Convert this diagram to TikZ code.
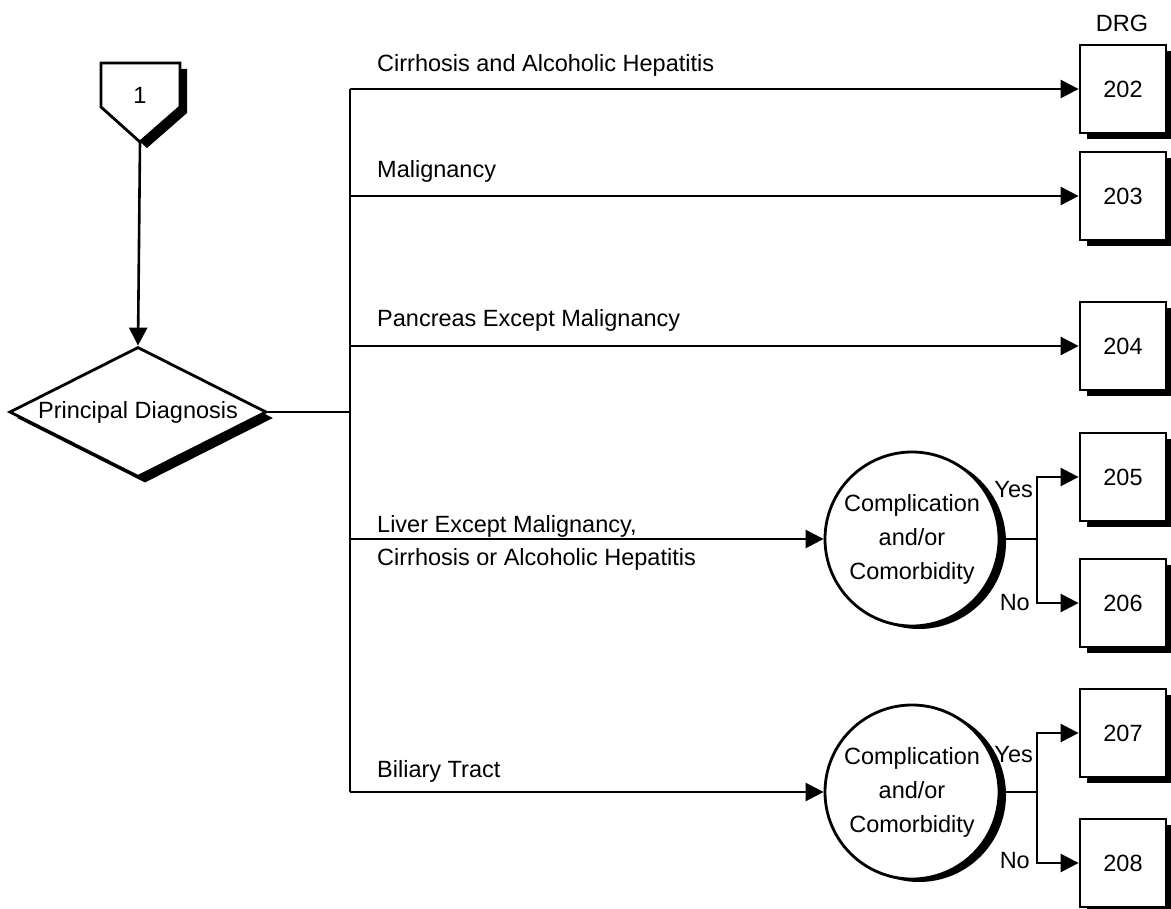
\documentclass[tikz,border=0pt]{standalone}
\usepackage{fontspec}
\setmainfont{Liberation Sans}
\usetikzlibrary{shapes.geometric,shadows,arrows.meta,calc}

\begin{document}
\begin{tikzpicture}[x=1pt,y=-1pt,
  txt/.style={font=\fontsize{23.5}{28}\selectfont, inner sep=0pt},
  conn/.style={line width=2.6pt},
  arr/.style={conn, -{Triangle[length=18pt,width=18pt]}},
  shade/.style={drop shadow={shadow xshift=7pt,shadow yshift=-6pt,opacity=1,fill=black}},
  drgbox/.style={draw, line width=2.8pt, fill=white, shade, txt,
    minimum width=86pt, minimum height=88pt},
  decision/.style={draw, line width=2.8pt, fill=white, circle,
    minimum size=174pt, inner sep=0pt, align=center,
    font=\fontsize{23.5}{34}\selectfont,
    drop shadow={shadow xshift=7pt,shadow yshift=-3pt,opacity=1,fill=black}}]

\useasboundingbox[fill=white] (0,0) rectangle (1171,909);

% off-page connector
\path[draw, line width=2.8pt, fill=white, shade]
  (101,63) -- (180,63) -- (180,107) -- (140,142) -- (101,107) -- cycle;
\node[txt] (start) at (140,95) {1};
\coordinate (starttip) at (140,142);

% principal diagnosis
\node[draw, line width=2.8pt, fill=white, diamond, aspect=2, inner sep=0pt,
  minimum width=257pt, minimum height=130pt, txt, shade] (diag) at (138,412)
  {Principal Diagnosis};
\draw[arr] (starttip) -- (diag.north);

% trunk of the branches
\coordinate (bartop) at (350,89);
\coordinate (barbot) at (350,792);
\draw[conn] (bartop) -- (barbot);
\draw[conn] (diag.east) -- (diag.east -| bartop);

% DRG boxes
\node[txt] (drg) at (1122,23) {DRG};
\node[drgbox] (b202) at (1123,89)  {202};
\node[drgbox] (b203) at (1123,196) {203};
\node[drgbox] (b204) at (1123,346) {204};
\node[drgbox] (b205) at (1123,477) {205};
\node[drgbox] (b206) at (1123,603) {206};
\node[drgbox] (b207) at (1123,733) {207};
\node[drgbox] (b208) at (1123,863) {208};

% CC decisions
\node[decision] (cc1) at (912,539) {Complication\\and/or\\Comorbidity};
\node[decision] (cc2) at (912,792) {Complication\\and/or\\Comorbidity};

% direct branches
\draw[arr] (b202.west -| bartop) -- (b202.west);
\draw[arr] (b203.west -| bartop) -- (b203.west);
\draw[arr] (b204.west -| bartop) -- (b204.west);
\draw[arr] (cc1.west -| bartop) -- (cc1.west);
\draw[arr] (cc2.west -| bartop) -- (cc2.west);

% branch labels
\node[txt, anchor=base west] (l1) at (377,72)  {Cirrhosis and Alcoholic Hepatitis};
\node[txt, anchor=base west] (l2) at (377,178) {Malignancy};
\node[txt, anchor=base west] (l3) at (377,327) {Pancreas Except Malignancy};
\node[txt, anchor=base west] (l4a) at (377,532) {Liver Except Malignancy,};
\node[txt, anchor=base west] (l4b) at (377,565) {Cirrhosis or Alcoholic Hepatitis};
\node[txt, anchor=base west] (l5) at (377,777) {Biliary Tract};

% yes / no forks
\coordinate (f1) at (1037,539);
\draw[conn] (cc1.east) -- (f1);
\draw[arr] (f1) |- (b205.west);
\draw[arr] (f1) |- (b206.west);
\node[txt, anchor=base east] (y1) at (1033,497) {Yes};
\node[txt, anchor=base east] (n1) at (1030,610) {No};

\coordinate (f2) at (1037,792);
\draw[conn] (cc2.east) -- (f2);
\draw[arr] (f2) |- (b207.west);
\draw[arr] (f2) |- (b208.west);
\node[txt, anchor=base east] (y2) at (1033,762) {Yes};
\node[txt, anchor=base east] (n2) at (1030,868) {No};

\end{tikzpicture}
\end{document}
